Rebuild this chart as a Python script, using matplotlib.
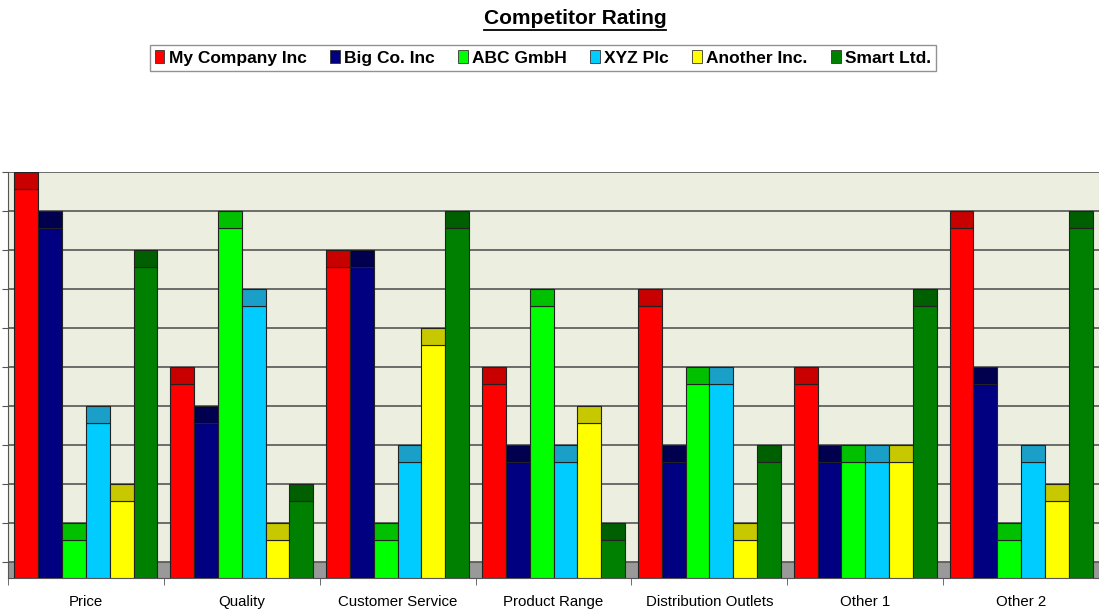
import numpy as np
import matplotlib.pyplot as plt
from matplotlib.patches import Patch
from matplotlib.lines import Line2D

plt.rcParams['font.family'] = ['Liberation Sans', 'DejaVu Sans']

categories = ['Price', 'Quality', 'Customer Service', 'Product Range',
              'Distribution Outlets', 'Other 1', 'Other 2']
companies = ['My Company Inc', 'Big Co. Inc', 'ABC GmbH', 'XYZ Plc',
             'Another Inc.', 'Smart Ltd.']
my_company = [10, 5, 8, 5, 7, 5, 9]
big_co = [9, 4, 8, 3, 3, 3, 5]
abc_gmbh = [1, 9, 1, 7, 5, 3, 1]
xyz_plc = [4, 7, 3, 3, 5, 3, 3]
another = [2, 1, 6, 4, 1, 3, 2]
smart = [8, 2, 9, 1, 3, 7, 9]
series = [my_company, big_co, abc_gmbh, xyz_plc, another, smart]

face = ['#ff0000', '#000080', '#00ff00', '#00ccff', '#ffff00', '#008000']
top = ['#c80000', '#00004e', '#00c000', '#1a9fc8', '#c8c800', '#005f00']

W, H = 1099, 611
fig = plt.figure(figsize=(W / 100, H / 100), dpi=100)
ax = fig.add_axes([8 / W, 1 - 578 / H, (W - 8) / W, (578 - 172) / H])

base = -0.41
cap = 0.44
gw = 157.8  # px per group
ax.set_facecolor('#eceee0')
ax.set_xlim(-0.5 + 1 / gw, -0.5 + (W - 7) / gw)
ax.set_ylim(base, 10)

# floor edge (grey strip visible between groups)
ax.axhspan(base, 0, color='#999999', zorder=1)
for v in range(0, 11):
    ax.axhline(v, color='#555555', lw=1.2, zorder=1)

bw = 24 / 157
x = np.arange(len(categories))
for i, vals in enumerate(series):
    xs = x - 3 * bw + i * bw + bw / 2
    vals = np.array(vals, dtype=float)
    ax.bar(xs, vals - cap - base, bw, bottom=base, color=face[i],
           edgecolor='#222222', lw=0.8, zorder=3)
    ax.bar(xs, [cap] * len(vals), bw, bottom=vals - cap, color=top[i],
           edgecolor='#222222', lw=0.8, zorder=3)

ax.set_xticks(x)
ax.set_xticklabels(categories, fontsize=10.8)
ax.tick_params(axis='x', length=0, pad=12)
ax.set_xticks(np.arange(-0.5, 7, 1), minor=True)
ax.tick_params(axis='x', which='minor', length=5, color='#555555')
ax.set_yticks(range(0, 11))
ax.set_yticklabels([])
ax.tick_params(axis='y', length=4, color='#555555')
for s in ['top', 'right']:
    ax.spines[s].set_visible(False)
ax.spines['left'].set_color('#555555')
ax.spines['bottom'].set_color('#555555')

t = fig.text(575 / W, 1 - 19 / H, 'Competitor Rating', ha='center',
             va='center', fontsize=15, fontweight='bold')

handles = [Patch(facecolor=face[i], edgecolor='#333333', lw=0.6)
           for i in range(6)]
leg = fig.legend(handles, companies, ncol=6, loc='center',
                 bbox_to_anchor=(543 / W, 1 - 58 / H), frameon=True,
                 fancybox=False, edgecolor='#777777', handlelength=0.55,
                 handleheight=0.7, handletextpad=0.25, columnspacing=1.35,
                 borderpad=0.3, prop={'weight': 'bold', 'size': 12.5})
leg.get_frame().set_linewidth(1.0)

fig.canvas.draw()
bb = t.get_window_extent().transformed(fig.transFigure.inverted())
fig.add_artist(Line2D([bb.x0, bb.x1], [bb.y0 - 0.002, bb.y0 - 0.002],
                      transform=fig.transFigure, color='black', lw=1.3))

fig.savefig('out.png', dpi=100)
